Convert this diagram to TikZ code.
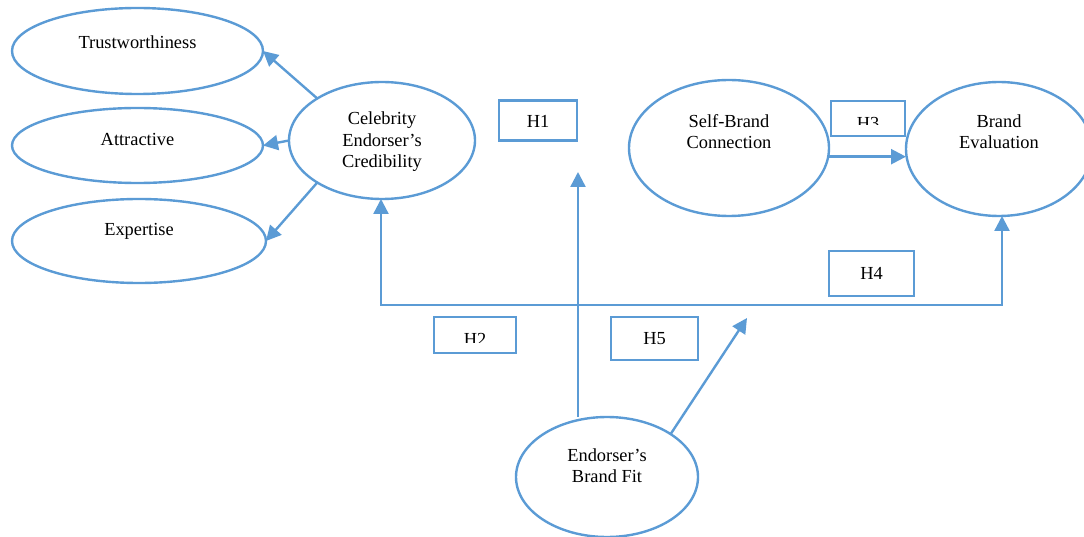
\documentclass[tikz,border=0pt]{standalone}
\usepackage{fontspec}
\setmainfont{Liberation Serif}
\usetikzlibrary{arrows.meta,shapes.geometric}
\definecolor{lblue}{RGB}{91,155,213}
\begin{document}
\begin{tikzpicture}[x=1pt,y=-1pt,
  >={Triangle[length=15pt,width=15pt]},
  every node/.style={inner sep=0pt, outer sep=0pt},
  txt/.style={font=\fontsize{18.4}{21.2}\selectfont, align=center, inner sep=0pt, text=black},
  ell/.style n args={4}{ellipse, draw=lblue, line width=2.4pt,
     minimum width=#1pt, minimum height=#2pt,
     path picture={\node[txt] at ([yshift=#3pt]path picture bounding box.center) {#4};}},
  hbox/.style n args={5}{rectangle, draw=lblue, line width=2.4pt,
     minimum width=#1pt, minimum height=#2pt,
     path picture={\clip (path picture bounding box.north west) rectangle ([yshift=#5pt]path picture bounding box.south east);
       \node[txt] at ([yshift=#3pt]path picture bounding box.center) {#4};}},
  arr/.style={draw=lblue, line width=2.4pt, ->},
  line/.style={draw=lblue, line width=2.4pt},
]
\useasboundingbox (0,0) rectangle (1084,537);

% ellipses
\node[ell={251}{86}{9}{Trustworthiness}] (tw) at (137.5,51) {};
\node[ell={251}{75}{6}{Attractive}] (att) at (137.5,145.5) {};
\node[ell={254}{84}{10}{Expertise}] (exp) at (139,241) {};
\node[ell={186}{117}{-1.3}{Celebrity\\Endorser’s\\Credibility}] (cel) at (382,140.5) {};
\node[ell={200}{136}{16}{Self-Brand\\Connection}] (sb) at (729,148) {};
\node[ell={186}{134}{17}{Brand\\Evaluation}] (be) at (999,149) {};
\node[ell={182}{120}{11.4}{Endorser’s\\Brand Fit}] (ebf) at (607,477) {};

% hypothesis boxes
\node[hbox={78}{40}{-1.3}{H1}{0}] (h1) at (538,120.5) {};
\node[hbox={82}{36}{-4.2}{H2}{11}] (h2) at (475,335) {};
\node[hbox={74}{35}{-4.7}{H3}{11}] (h3) at (868,118.5) {};
\node[hbox={85}{45}{0}{H4}{0}] (h4) at (871.5,273.5) {};
\node[hbox={87}{43}{0}{H5}{0}] (h5) at (654.5,338.5) {};

% free ends / junctions
\coordinate (jl) at (381,305);
\coordinate (jr) at (1002,305);
\coordinate (t1) at (578,172);
\coordinate (t5) at (747,318);

% connectors
\draw[arr] (cel.147) -- (tw.east);
\draw[arr] (cel.west) -- (att.east);
\draw[arr] (cel.213) -- (exp.east);
\draw[arr] (sb.-5) -- (sb.-5 -| be.west);
\draw[line, <->] (jl |- cel.south) -- (jl) -- (jr) -- (jr |- be.south);
\draw[arr] (t1 |- ebf.north) -- (t1);
\draw[arr] (ebf.34) -- (t5);
\end{tikzpicture}
\end{document}
